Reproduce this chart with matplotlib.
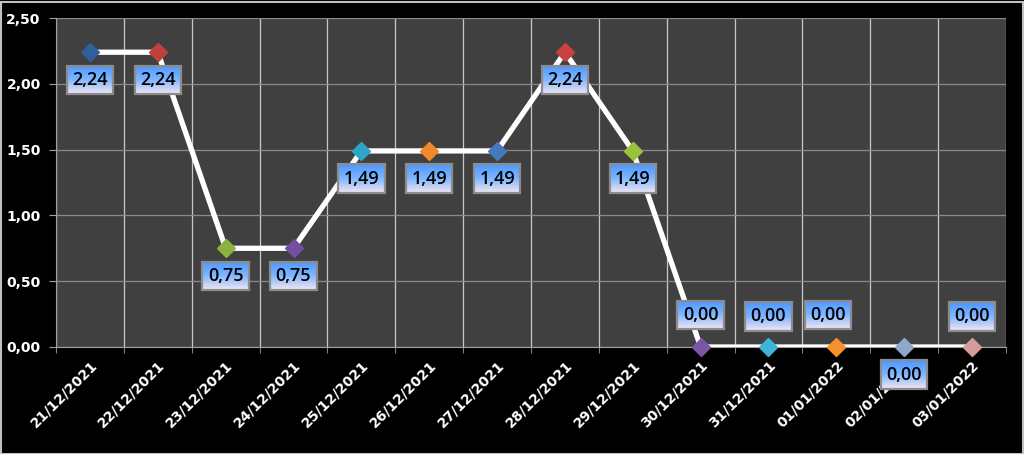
import matplotlib.pyplot as plt
import numpy as np
from matplotlib.image import BboxImage
from matplotlib.colors import LinearSegmentedColormap
from matplotlib.ticker import FuncFormatter, MultipleLocator

# dados
dias = ["21/12/2021", "22/12/2021", "23/12/2021", "24/12/2021", "25/12/2021",
        "26/12/2021", "27/12/2021", "28/12/2021", "29/12/2021", "30/12/2021",
        "31/12/2021", "01/01/2022", "02/01/2022", "03/01/2022"]
valores = [2.24, 2.24, 0.75, 0.75, 1.49, 1.49, 1.49, 2.24, 1.49, 0.0, 0.0, 0.0, 0.0, 0.0]

# cores dos marcadores (estilo)
cores = ["#2f5f9c", "#c0403d", "#8cb23f", "#7150a0", "#2fa6c6", "#f0892a", "#4579bd",
         "#c9413e", "#9cc13f", "#7a56a6", "#3eb4d6", "#f5922c", "#8fa7c9", "#d49c9a"]
# deslocamento dos rótulos em pontos (dx, dy)
desloc = [(0, -20), (0, -20), (0, -20), (0, -20), (0, -20), (0, -20), (0, -20),
          (0, -20), (0, -20), (0, 23), (0, 22), (-6, 23), (0, -20), (0, 22)]

fig = plt.figure(figsize=(10.24, 4.54), dpi=100, facecolor="black")
ax = fig.add_axes([56 / 1024, 1 - 347 / 454, 950 / 1024, 329 / 454])
ax.set_facecolor("#404040")

x = np.arange(len(dias))
ax.plot(x, valores, color="white", lw=3.8, zorder=3, solid_joinstyle="miter")
for i in x:
    ax.plot(x[i], valores[i], marker="D", ms=9, color=cores[i],
            markeredgecolor=cores[i], zorder=4, clip_on=False)

ax.set_xlim(-0.5, len(dias) - 0.5)
ax.set_ylim(0, 2.5)
ax.yaxis.set_major_locator(MultipleLocator(0.5))
ax.yaxis.set_major_formatter(FuncFormatter(lambda v, p: f"{v:.2f}".replace(".", ",")))
ax.set_xticks(x)
ax.set_xticklabels(dias, rotation=45, ha="right", rotation_mode="anchor")
ax.set_xticks(np.arange(len(dias) + 1) - 0.5, minor=True)
ax.tick_params(axis="x", which="major", length=0, pad=8, colors="white")
ax.tick_params(axis="x", which="minor", length=4, color="#a0a0a0")
ax.tick_params(axis="y", length=5, color="#a0a0a0", colors="white", pad=6)
for lab in ax.get_xticklabels() + ax.get_yticklabels():
    lab.set_fontweight("bold")
    lab.set_fontsize(10)
    lab.set_color("white")

ax.grid(True, which="minor", axis="x", color="#c8c8c8", lw=0.9)
ax.grid(True, which="major", axis="y", color="#8a8a8a", lw=0.9)
ax.set_axisbelow(True)
for s in ["top", "right"]:
    ax.spines[s].set_visible(False)
ax.spines["left"].set_color("#a0a0a0")
ax.spines["bottom"].set_color("#a0a0a0")

textos = []
for i in x:
    t = ax.annotate(f"{valores[i]:.2f}".replace(".", ","), (x[i], valores[i]),
                    xytext=desloc[i], textcoords="offset points",
                    ha="center", va="center", fontsize=13, color="black",
                    family="Open Sans", fontweight="semibold", zorder=7,
                    annotation_clip=False,
                    bbox=dict(boxstyle="square,pad=0.3", fc="none", ec="#8c8c8c", lw=1.6))
    textos.append(t)

# fundo em degradê das caixas
fig.canvas.draw()
rend = fig.canvas.get_renderer()
grad = LinearSegmentedColormap.from_list("g", ["#4a98ff", "#7fb6ff", "#f2e6f2"])
gdata = np.linspace(0, 1, 64).reshape(-1, 1)
for t in textos:
    bb = t.get_bbox_patch().get_window_extent(rend)
    im = BboxImage(bb, cmap=grad, interpolation="bilinear", origin="upper")
    im.set_data(gdata)
    im.set_zorder(6)
    im.set_clip_on(False)
    ax.add_artist(im)

fig.patches.append(plt.Rectangle((0.5 / 1024, 0.5 / 454), 1022 / 1024, 452 / 454,
                                 transform=fig.transFigure, fill=False,
                                 ec="#c0c0c0", lw=1.5))
fig.savefig("out.png", dpi=100, facecolor="black")
